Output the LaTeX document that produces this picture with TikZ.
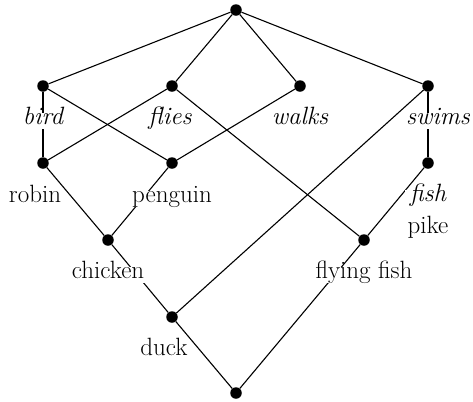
\documentclass[tikz,border=0pt]{standalone}
\usepackage{fontspec}
\begin{document}
\begin{tikzpicture}[x=1bp,y=-1bp,
  dot/.style={circle,fill=black,inner sep=0pt,minimum size=11.5bp},
  lbl/.style={anchor=base,fill=white,inner xsep=5bp,inner ysep=2.5bp,
    text height=0.88em,text depth=0.22em,font=\fontsize{25bp}{31bp}\selectfont},
  attr/.style={lbl,font=\fontsize{25bp}{31bp}\selectfont\itshape},
  edge/.style={line width=1.1bp}]
\useasboundingbox (0,0) rectangle (473,401);
% lattice points
\node[dot] (top) at (236,10) {};
\node[dot] (bird) at (43,86) {};
\node[dot] (flies) at (172,86) {};
\node[dot] (walks) at (300,86) {};
\node[dot] (swims) at (428,86) {};
\node[dot] (robin) at (43,163) {};
\node[dot] (penguin) at (172,163) {};
\node[dot] (fish) at (428,163) {};
\node[dot] (chicken) at (108,240) {};
\node[dot] (ffish) at (364,240) {};
\node[dot] (duck) at (172,317) {};
\node[dot] (bot) at (236,393) {};
% edges
\draw[edge] (top) -- (bird);
\draw[edge] (top) -- (flies);
\draw[edge] (top) -- (walks);
\draw[edge] (top) -- (swims);
\draw[edge] (bird) -- (robin);
\draw[edge] (bird) -- (penguin);
\draw[edge] (flies) -- (robin);
\draw[edge] (flies) -- (ffish);
\draw[edge] (walks) -- (penguin);
\draw[edge] (swims) -- (fish);
\draw[edge] (swims) -- (duck);
\draw[edge] (robin) -- (chicken);
\draw[edge] (penguin) -- (chicken);
\draw[edge] (fish) -- (ffish);
\draw[edge] (chicken) -- (duck);
\draw[edge] (duck) -- (bot);
\draw[edge] (ffish) -- (bot);
% labels
\node[attr] (lbird) at (43,124) {bird};
\node[attr] (lflies) at (170,124) {flies};
\node[attr] (lwalks) at (300,124) {walks};
\node[attr] (lswims) at (438,124) {swims};
\node[lbl] (lrobin) at (35,202) {robin};
\node[lbl] (lpenguin) at (172,202) {penguin};
\node[lbl] (lpike) at (428,233) {pike};
\node[attr] (lfish) at (428,201) {fish};
\node[lbl] (lchicken) at (108,278) {chicken};
\node[lbl] (lffish) at (364,278) {flying fish};
\node[lbl] (lduck) at (164,355) {duck};
\end{tikzpicture}
\end{document}
